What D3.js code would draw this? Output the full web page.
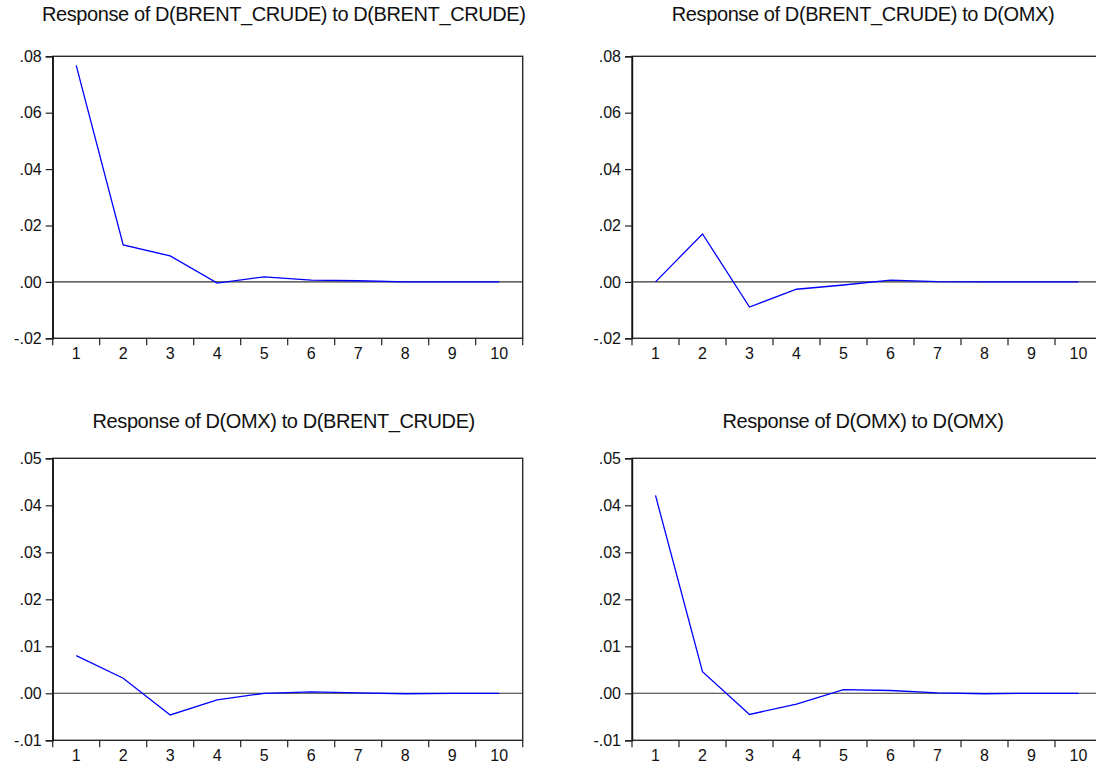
<!DOCTYPE html>
<html>
<head>
<meta charset="utf-8">
<script src="https://cdn.jsdelivr.net/npm/d3@7"></script>
<style>
  body { margin: 0; background: #fff; }
  svg { display: block; }
  text { font-family: Arial, "Liberation Sans", sans-serif; fill: #111; }
</style>
</head>
<body>
<svg id="irf" width="1096" height="765"></svg>
<script>
// periods on the x axis
const periods = [1, 2, 3, 4, 5, 6, 7, 8, 9, 10];

// panel titles
const titles = [
  'Response of D(BRENT_CRUDE) to D(BRENT_CRUDE)',
  'Response of D(BRENT_CRUDE) to D(OMX)',
  'Response of D(OMX) to D(BRENT_CRUDE)',
  'Response of D(OMX) to D(OMX)'
];

// impulse responses
const brentToBrent = [0.0768, 0.0131, 0.0092, -0.0004, 0.0018, 0.0006, 0.0004, 0.0000, 0.0000, 0.0000];
const brentToOmx   = [0.0000, 0.0170, -0.0089, -0.0026, -0.0011, 0.0006, 0.0001, 0.0000, 0.0000, 0.0000];
const omxToBrent   = [0.0080, 0.0032, -0.0046, -0.0014, 0.0000, 0.0003, 0.0001, -0.0001, 0.0000, 0.0000];
const omxToOmx     = [0.0421, 0.0046, -0.0045, -0.0023, 0.0008, 0.0006, 0.0001, -0.0001, 0.0000, 0.0000];

// y axis ticks
const ticksTop    = [-0.02, 0.00, 0.02, 0.04, 0.06, 0.08];
const ticksBottom = [-0.01, 0.00, 0.01, 0.02, 0.03, 0.04, 0.05];

const series = [brentToBrent, brentToOmx, omxToBrent, omxToOmx];
const yTicks = [ticksTop, ticksTop, ticksBottom, ticksBottom];

const svg = d3.select('svg#irf');
const plotW = 470, plotH = 282;
const lefts = [52.7, 632];
const tops = [56.3, 458.3];
const titleOffsets = [-35, -30];

// EViews style: ".08", "-.02"
const fmt = v => {
  const s = d3.format('.2f')(Math.abs(v) < 1e-9 ? 0 : v);
  return s.replace('\u2212', '-').replace('0.', '.');
};

series.forEach((vals, i) => {
  const col = i % 2, row = Math.floor(i / 2);
  const g = svg.append('g')
      .attr('transform', 'translate(' + lefts[col] + ',' + tops[row] + ')');

  const ticks = yTicks[i];
  const x = d3.scaleBand().domain(periods).range([0, plotW]);
  const y = d3.scaleLinear().domain(d3.extent(ticks)).range([plotH, 0]);

  // title
  g.append('text')
      .attr('x', plotW / 2 - 4)
      .attr('y', titleOffsets[row])
      .attr('text-anchor', 'middle')
      .style('font-size', '20px')
      .style('letter-spacing', '-0.4px')
      .text(titles[i]);

  // zero line
  g.append('line')
      .attr('x1', 0).attr('x2', plotW)
      .attr('y1', y(0)).attr('y2', y(0))
      .attr('stroke', '#333').attr('stroke-width', 1.1);

  // response line
  const line = d3.line()
      .x((d, j) => x(periods[j]) + x.bandwidth() / 2)
      .y(d => y(d));
  g.append('path')
      .datum(vals)
      .attr('d', line)
      .attr('fill', 'none')
      .attr('stroke', '#0000ff')
      .attr('stroke-width', 1.3);

  // frame
  g.append('rect')
      .attr('width', plotW).attr('height', plotH)
      .attr('fill', 'none')
      .attr('stroke', '#2a2a2a').attr('stroke-width', 1.4);

  // y axis
  const yAxis = d3.axisLeft(y).tickValues(ticks).tickFormat(fmt).tickSize(7).tickPadding(4);
  const ya = g.append('g').call(yAxis);
  ya.select('.domain').attr('stroke', '#111').attr('stroke-width', 1.4);
  ya.selectAll('.tick line').attr('stroke', '#222').attr('stroke-width', 1.2);
  ya.selectAll('.tick text')
      .style('font-size', '16px')
      .style('font-family', 'Arial, "Liberation Sans", sans-serif')
      .attr('fill', '#111');

  // x axis: ticks on category boundaries, labels centred
  const xa = g.append('g').attr('transform', 'translate(0,' + plotH + ')');
  const bounds = periods.map(p => x(p)).concat([plotW]);
  xa.selectAll('line.bt').data(bounds).enter().append('line')
      .attr('class', 'bt')
      .attr('x1', d => d).attr('x2', d => d)
      .attr('y1', 0).attr('y2', 7)
      .attr('stroke', '#222').attr('stroke-width', 1.2);
  xa.selectAll('text.xl').data(periods).enter().append('text')
      .attr('class', 'xl')
      .attr('x', d => x(d) + x.bandwidth() / 2)
      .attr('y', 21)
      .attr('text-anchor', 'middle')
      .style('font-size', '16px')
      .text(d => d);
});
</script>
</body>
</html>
